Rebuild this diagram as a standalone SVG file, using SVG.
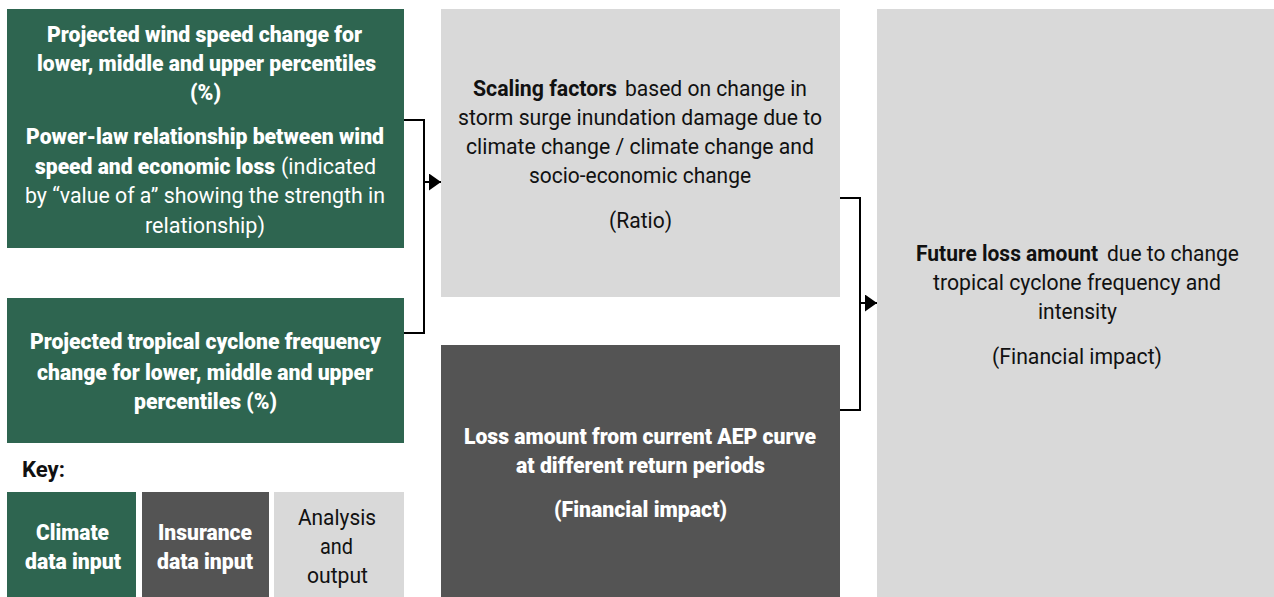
<svg xmlns="http://www.w3.org/2000/svg" width="1274" height="597" viewBox="0 0 1274 597">
<defs>
<style>
text{font-family:Roboto,"Liberation Sans",sans-serif;font-size:22px;}
.w{fill:#ffffff;}
.k{fill:#111111;}
.b{font-weight:700;}
.w.b,.w .b{font-weight:900;}
.green{fill:#2E6550;}
.dark{fill:#545454;}
.light{fill:#D9D9D9;}
.conn{fill:none;stroke:#000;stroke-width:2;}
</style>
<marker id="arr" markerWidth="12" markerHeight="17" refX="12" refY="8.5" orient="auto" markerUnits="userSpaceOnUse">
<path d="M0,0 L12,8.5 L0,17 Z" fill="#000"/>
</marker>
</defs>
<rect x="0" y="0" width="1274" height="597" fill="#ffffff"/>

<g id="node-wind">
<rect class="green" x="7" y="9" width="397" height="239"/>
<text class="w b" x="47" y="42" textLength="315" lengthAdjust="spacingAndGlyphs">Projected wind speed change for</text>
<text class="w b" x="37" y="71" textLength="339" lengthAdjust="spacingAndGlyphs">lower, middle and upper percentiles</text>
<text class="w b" x="190" y="100" textLength="31" lengthAdjust="spacingAndGlyphs">(%)</text>
<text class="w b" x="26" y="144" textLength="358" lengthAdjust="spacingAndGlyphs">Power-law relationship between wind</text>
<text class="w"><tspan class="b" x="35" y="174" textLength="240" lengthAdjust="spacingAndGlyphs">speed and economic loss</tspan><tspan x="281" y="174" textLength="95" lengthAdjust="spacingAndGlyphs">(indicated</tspan></text>
<text class="w" x="25" y="203" textLength="360" lengthAdjust="spacingAndGlyphs">by “value of a” showing the strength in</text>
<text class="w" x="145" y="233" textLength="120" lengthAdjust="spacingAndGlyphs">relationship)</text>
</g>

<g id="node-frequency">
<rect class="green" x="7" y="298" width="397" height="145"/>
<text class="w b" x="30" y="349" textLength="351" lengthAdjust="spacingAndGlyphs">Projected tropical cyclone frequency</text>
<text class="w b" x="37" y="380" textLength="336" lengthAdjust="spacingAndGlyphs">change for lower, middle and upper</text>
<text class="w b" x="134" y="409" textLength="143" lengthAdjust="spacingAndGlyphs">percentiles (%)</text>
</g>

<g id="key">
<text class="k b" x="22" y="477" textLength="43" lengthAdjust="spacingAndGlyphs">Key:</text>
<g id="key-climate">
<rect class="green" x="7" y="492" width="129" height="105"/>
<text class="w b" x="36" y="540" textLength="73" lengthAdjust="spacingAndGlyphs">Climate</text>
<text class="w b" x="25" y="569" textLength="96" lengthAdjust="spacingAndGlyphs">data input</text>
</g>
<g id="key-insurance">
<rect class="dark" x="142" y="492" width="127" height="105"/>
<text class="w b" x="158" y="540" textLength="94" lengthAdjust="spacingAndGlyphs">Insurance</text>
<text class="w b" x="157" y="569" textLength="96" lengthAdjust="spacingAndGlyphs">data input</text>
</g>
<g id="key-analysis">
<rect class="light" x="274" y="492" width="130" height="105"/>
<text class="k" x="298" y="525" textLength="78" lengthAdjust="spacingAndGlyphs">Analysis</text>
<text class="k" x="320" y="554" textLength="33" lengthAdjust="spacingAndGlyphs">and</text>
<text class="k" x="307" y="583" textLength="61" lengthAdjust="spacingAndGlyphs">output</text>
</g>
</g>

<g id="node-scaling">
<rect class="light" x="441" y="9" width="399" height="288"/>
<text class="k"><tspan class="b" x="473" y="96" textLength="144" lengthAdjust="spacingAndGlyphs">Scaling factors</tspan><tspan x="625" y="96" textLength="182" lengthAdjust="spacingAndGlyphs">based on change in</tspan></text>
<text class="k" x="458" y="125" textLength="364" lengthAdjust="spacingAndGlyphs">storm surge inundation damage due to</text>
<text class="k" x="466" y="154" textLength="348" lengthAdjust="spacingAndGlyphs">climate change / climate change and</text>
<text class="k" x="529" y="183" textLength="222" lengthAdjust="spacingAndGlyphs">socio-economic change</text>
<text class="k" x="609" y="228" textLength="63" lengthAdjust="spacingAndGlyphs">(Ratio)</text>
</g>

<g id="node-loss">
<rect class="dark" x="441" y="345" width="399" height="252"/>
<text class="w b" x="464" y="444" textLength="352" lengthAdjust="spacingAndGlyphs">Loss amount from current AEP curve</text>
<text class="w b" x="516" y="473" textLength="249" lengthAdjust="spacingAndGlyphs">at different return periods</text>
<text class="w b" x="554" y="517" textLength="173" lengthAdjust="spacingAndGlyphs">(Financial impact)</text>
</g>

<g id="node-future">
<rect class="light" x="877" y="9" width="397" height="588"/>
<text class="k"><tspan class="b" x="916" y="261" textLength="182" lengthAdjust="spacingAndGlyphs">Future loss amount</tspan><tspan x="1107" y="261" textLength="132" lengthAdjust="spacingAndGlyphs">due to change</tspan></text>
<text class="k" x="933" y="290" textLength="288" lengthAdjust="spacingAndGlyphs">tropical cyclone frequency and</text>
<text class="k" x="1038" y="319" textLength="79" lengthAdjust="spacingAndGlyphs">intensity</text>
<text class="k" x="992" y="364" textLength="170" lengthAdjust="spacingAndGlyphs">(Financial impact)</text>
</g>

<g id="connectors">
<path class="conn" d="M404,120 H424 V333 H404"/>
<path class="conn" d="M424,182 H441" marker-end="url(#arr)"/>
<path class="conn" d="M840,198 H860 V410 H840"/>
<path class="conn" d="M860,303 H877" marker-end="url(#arr)"/>
</g>
</svg>
